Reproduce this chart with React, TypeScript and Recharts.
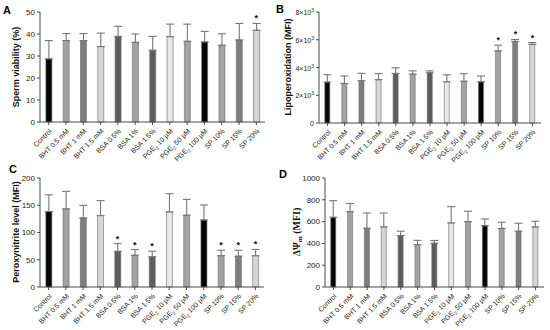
import React from 'react';
import { BarChart, Bar, XAxis, YAxis, Cell, ErrorBar, ReferenceDot } from 'recharts';

const groups = [
  'Control', 'BHT 0.5 mM', 'BHT 1 mM', 'BHT 1.5 mM', 'BSA 0.5%', 'BSA 1%', 'BSA 1.5%',
  'PGE2 10 µM', 'PGE2 50 µM', 'PGE2 100 µM', 'SP 10%', 'SP 15%', 'SP 20%',
];
const barColors = [
  '#050505', '#a3a3a5', '#7e7e7e', '#d6d6d6', '#5d5d5d', '#a3a3a5', '#5d5d5d',
  '#e8e8e8', '#a3a3a5', '#050505', '#a3a3a5', '#7e7e7e', '#d6d6d6',
];

// A - sperm viability (%)
const viability = [28.7, 37, 37, 34.3, 38.9, 36.2, 32.6, 38.8, 36.7, 36.4, 34.9, 37.3, 41.7];
const viabilityTop = [37, 40.2, 40.2, 40.4, 43.5, 40, 38.9, 44.5, 44.5, 41.2, 40.1, 44.8, 44.8];
const viabilityStars = ['SP 20%'];
const viabilityTicks = [0, 10, 20, 30, 40, 50];

// B - lipoperoxidation (MFI)
const lipo = [2950, 2850, 3050, 3120, 3570, 3520, 3620, 2970, 3010, 2970, 5200, 5880, 5670];
const lipoTop = [3480, 3390, 3580, 3560, 3980, 3760, 3760, 3470, 3550, 3390, 5610, 6020, 5800];
const lipoStars = ['SP 10%', 'SP 15%', 'SP 20%'];
const lipoTicks = [0, 2000, 4000, 6000, 8000];

// C - peroxynitrite level (MFI)
const peroxy = [138.5, 143.3, 126.8, 131, 65.5, 58.3, 55.5, 137.8, 131.8, 123, 57.5, 56.5, 57.3];
const peroxyTop = [169, 175.5, 149.8, 158.5, 79.6, 68.8, 65.8, 171.2, 160.8, 150.5, 67.5, 67.5, 69];
const peroxyStars = ['BSA 0.5%', 'BSA 1%', 'BSA 1.5%', 'SP 10%', 'SP 15%', 'SP 20%'];
const peroxyTicks = [0, 50, 100, 150, 200];

// D - mitochondrial membrane potential (MFI)
const mmp = [640, 691, 539, 551, 472, 388, 402, 588, 600, 563, 537, 512, 551];
const mmpTop = [792, 766, 679, 679, 512, 428, 427, 737, 695, 624, 594, 585, 603];
const mmpStars: string[] = [];
const mmpTicks = [0, 200, 400, 600, 800, 1000];

const font = '"Liberation Sans", Arial, sans-serif';
const axisColor = '#4a4a4a';

const buildRows = (values: number[], tops: number[]) =>
  groups.map((g, i) => ({ group: g, value: values[i], err: [0, tops[i] - values[i]], top: tops[i] }));

const GroupTick = (props: any) => {
  const { x, y, payload } = props;
  const label: string = payload.value;
  const isPge = label.startsWith('PGE2');
  return (
    <g transform={`translate(${x},${y + 1})`}>
      <text x={0} y={0} dy={5} textAnchor="end" transform="rotate(-45)" fontSize={7} fill="#222" fontFamily={font}>
        {isPge ? (
          <>
            PGE
            <tspan fontSize={5} dy={2}>2</tspan>
            <tspan dy={-2}>{label.slice(4)}</tspan>
          </>
        ) : (
          label
        )}
      </text>
    </g>
  );
};

const PowerTick = (props: any) => {
  const { x, y, payload } = props;
  const v: number = payload.value;
  return (
    <text x={x} y={y} dy={3} textAnchor="end" fontSize={7} fill="#222" fontFamily={font}>
      {v === 0 ? (
        '0'
      ) : (
        <>
          {`${v / 1000}×10`}
          <tspan fontSize={5} dy={-3}>3</tspan>
        </>
      )}
    </text>
  );
};

type PanelProps = {
  values: number[];
  tops: number[];
  stars: string[];
  ticks: number[];
  left: number;
  top: number;
  axisWidth: number;
  plotTop: number;
  plotRight: number;
  xHeight: number;
  powerTicks?: boolean;
};

const Panel = ({ values, tops, stars, ticks, left, top, axisWidth, plotTop, plotRight, xHeight, powerTicks }: PanelProps) => {
  const rows = buildRows(values, tops);
  return (
    <div style={{ position: 'absolute', left, top }}>
      <BarChart
        width={275}
        height={165}
        data={rows}
        margin={{ top: plotTop, right: plotRight, left: 0, bottom: 0 }}
        barCategoryGap="34%"
      >
        <XAxis
          dataKey="group"
          interval={0}
          height={xHeight}
          tick={<GroupTick />}
          tickSize={3}
          stroke={axisColor}
          tickLine={{ stroke: axisColor }}
        />
        <YAxis
          width={axisWidth}
          domain={[ticks[0], ticks[ticks.length - 1]]}
          ticks={ticks}
          interval={0}
          tickSize={3}
          stroke={axisColor}
          tick={powerTicks ? <PowerTick /> : { fontSize: 8, fill: '#222', fontFamily: font }}
        />
        <Bar dataKey="value" isAnimationActive={false} stroke="#6a6a6a" strokeWidth={0.6}>
          {rows.map((r, i) => (
            <Cell key={r.group} fill={barColors[i]} />
          ))}
          <ErrorBar dataKey="err" direction="y" width={4} stroke="#777" strokeWidth={1.1} />
        </Bar>
        {stars.map((s) => (
          <ReferenceDot
            key={s}
            x={s}
            y={rows.find((r) => r.group === s)!.top}
            r={0}
            stroke="none"
            fill="none"
            label={{ value: '*', position: 'top', offset: 2, fontSize: 9, fontWeight: 'bold', fill: '#111', fontFamily: font }}
          />
        ))}
      </BarChart>
    </div>
  );
};

const titleStyle = { fontFamily: font, fontWeight: 700, fontSize: 9, fill: '#111' } as const;

const App = () => (
  <div style={{ position: 'absolute', left: 0, top: 0, width: 550, height: 330, background: '#fff' }}>
    <Panel values={viability} tops={viabilityTop} stars={viabilityStars} ticks={viabilityTicks}
      left={0} top={0} axisWidth={40} plotTop={12} plotRight={10} xHeight={43} />
    <Panel values={lipo} tops={lipoTop} stars={lipoStars} ticks={lipoTicks}
      left={275} top={0} axisWidth={44} plotTop={12} plotRight={9} xHeight={42} powerTicks />
    <Panel values={peroxy} tops={peroxyTop} stars={peroxyStars} ticks={peroxyTicks}
      left={0} top={165} axisWidth={40} plotTop={13} plotRight={11} xHeight={43} />
    <Panel values={mmp} tops={mmpTop} stars={mmpStars} ticks={mmpTicks}
      left={275} top={165} axisWidth={50} plotTop={13} plotRight={6} xHeight={43} />
    <svg width={550} height={330} style={{ position: 'absolute', left: 0, top: 0, pointerEvents: 'none' }}>
      <text x={3} y={14} style={{ fontFamily: font, fontWeight: 700, fontSize: 11 }}>A</text>
      <text x={276} y={13} style={{ fontFamily: font, fontWeight: 700, fontSize: 11 }}>B</text>
      <text x={9} y={173} style={{ fontFamily: font, fontWeight: 700, fontSize: 11 }}>C</text>
      <text x={279} y={178} style={{ fontFamily: font, fontWeight: 700, fontSize: 11 }}>D</text>
      <text transform="translate(19,67) rotate(-90)" textAnchor="middle" style={titleStyle}>Sperm viability (%)</text>
      <text transform="translate(291,67) rotate(-90)" textAnchor="middle" style={titleStyle}>Lipoperoxidation (MFI)</text>
      <text transform="translate(19,232) rotate(-90)" textAnchor="middle" style={titleStyle}>Peroxynitrite level (MFI)</text>
      <text transform="translate(300,232) rotate(-90)" textAnchor="middle"
        style={{ fontFamily: '"Liberation Serif", "Times New Roman", serif', fontWeight: 700, fontSize: 10, fill: '#111' }}>
        ΔΨ<tspan fontSize={7} dy={1.5}>m</tspan><tspan dy={-1.5}> (MFI)</tspan>
      </text>
    </svg>
  </div>
);

export default App;
